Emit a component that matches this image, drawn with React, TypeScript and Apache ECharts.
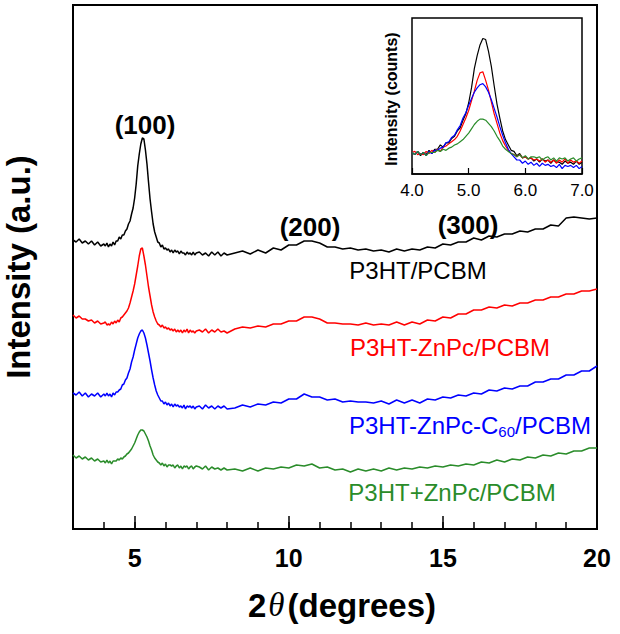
import React, { useEffect, useRef } from 'react';
import * as echarts from 'echarts';

// 2-theta positions (degrees)
const X = [
  3.0, 3.1, 3.2, 3.3, 3.4, 3.5, 3.6, 3.7, 3.8, 3.9,
  4.0, 4.05, 4.1, 4.15, 4.2, 4.25, 4.3, 4.35, 4.4, 4.45,
  4.5, 4.55, 4.6, 4.65, 4.7, 4.75, 4.8, 4.85, 4.9, 4.95,
  5.0, 5.05, 5.1, 5.15, 5.2, 5.25, 5.3, 5.35, 5.4, 5.45,
  5.5, 5.55, 5.6, 5.65, 5.7, 5.75, 5.8, 5.85, 5.9, 5.95,
  6.0, 6.05, 6.1, 6.15, 6.2, 6.25, 6.3, 6.35, 6.4, 6.45,
  6.5, 6.55, 6.6, 6.65, 6.7, 6.75, 6.8, 6.85, 6.9, 6.95,
  7.0,
  7.1, 7.2, 7.3, 7.4, 7.5, 7.6, 7.7, 7.8, 7.9, 8.0,
  8.25, 8.5, 8.75, 9.0, 9.25, 9.5, 9.75, 10.0, 10.25, 10.5,
  10.75, 11.0, 11.25, 11.5, 11.75, 12.0, 12.25, 12.5, 12.75, 13.0,
  13.25, 13.5, 13.75, 14.0, 14.25, 14.5, 14.75, 15.0, 15.25, 15.5,
  15.75, 16.0, 16.25, 16.5, 16.75, 17.0, 17.25, 17.5, 17.75, 18.0,
  18.25, 18.5, 18.75, 19.0, 19.25, 19.5, 19.75, 20.0,
];

// Offset intensities (a.u.)
const P3HT_PCBM = [
  289, 287, 290, 286, 288, 285, 288, 284, 287, 283,
  285, 283, 286, 282, 285, 283, 287, 284, 288, 288,
  292, 290, 294, 294, 298, 300, 305, 308, 315, 321,
  331, 345, 363, 375, 385, 391, 390, 379, 365, 347,
  330, 317, 305, 297, 292, 287, 286, 282, 284, 280,
  281, 279, 280, 277, 279, 276, 279, 277, 278, 275,
  278, 276, 276, 274, 277, 275, 276, 274, 277, 274,
  276,
  277, 274, 276, 273, 277, 274, 277, 273, 276, 274,
  276, 278, 275, 279, 276, 281, 279, 284, 284, 288,
  288, 286, 282, 282, 280, 281, 279, 280, 278, 279,
  277, 280, 278, 280, 279, 282, 281, 285, 284, 287,
  287, 291, 289, 293, 292, 295, 295, 298, 297, 300,
  300, 304, 303, 311, 312, 311, 310, 311,
];

const P3HT_ZNPC_PCBM = [
  214, 211, 213, 210, 210, 208, 209, 206, 208, 205,
  206, 207, 204, 205, 204, 207, 205, 208, 206, 209,
  207, 211, 212, 214, 216, 218, 221, 226, 232, 238,
  245, 254, 263, 273, 280, 281, 273, 264, 253, 242,
  233, 224, 217, 212, 208, 205, 204, 202, 204, 201,
  202, 200, 201, 199, 200, 198, 200, 197, 199, 197,
  199, 196, 199, 197, 200, 196, 199, 197, 198, 196,
  198,
  199, 197, 200, 196, 199, 197, 200, 197, 198, 196,
  200, 202, 201, 203, 202, 205, 205, 208, 208, 212,
  212, 210, 206, 206, 205, 205, 204, 206, 204, 205,
  204, 207, 204, 207, 205, 209, 208, 212, 211, 215,
  215, 219, 219, 222, 221, 224, 223, 226, 226, 229,
  229, 232, 232, 235, 235, 238, 238, 240,
];

const P3HT_ZNPC_C60_PCBM = [
  136, 134, 137, 133, 136, 132, 135, 133, 136, 132,
  135, 133, 136, 133, 135, 132, 136, 134, 137, 137,
  139, 140, 144, 145, 149, 151, 156, 160, 167, 172,
  179, 185, 191, 195, 198, 199, 196, 191, 184, 176,
  168, 159, 151, 144, 138, 134, 131, 128, 128, 125,
  127, 124, 126, 123, 125, 122, 125, 123, 124, 122,
  123, 121, 124, 120, 123, 122, 123, 121, 123, 120,
  122,
  123, 120, 124, 121, 123, 120, 123, 121, 123, 120,
  121, 124, 122, 125, 124, 127, 126, 130, 130, 135,
  132, 132, 129, 130, 127, 128, 127, 127, 126, 128,
  125, 129, 126, 129, 126, 130, 129, 132, 131, 134,
  133, 136, 135, 139, 138, 141, 140, 143, 143, 147,
  147, 150, 150, 154, 154, 158, 158, 163,
];

const P3HT_PLUS_ZNPC_PCBM = [
  74, 71, 73, 70, 72, 69, 71, 68, 70, 67,
  68, 66, 69, 66, 68, 65, 68, 68, 68, 70,
  69, 71, 70, 72, 73, 75, 76, 78, 80, 83,
  86, 90, 94, 97, 99, 99, 98, 95, 92, 88,
  83, 79, 74, 71, 69, 67, 66, 64, 66, 63,
  65, 62, 64, 64, 63, 64, 61, 63, 64, 61,
  63, 60, 63, 62, 63, 60, 62, 63, 60, 62,
  63,
  62, 60, 63, 59, 62, 60, 61, 59, 61, 59,
  60, 58, 61, 58, 61, 60, 62, 61, 64, 63,
  65, 61, 62, 59, 60, 57, 60, 58, 60, 58,
  61, 59, 61, 60, 62, 61, 63, 62, 64, 63,
  65, 64, 67, 66, 69, 67, 70, 69, 72, 71,
  74, 73, 76, 75, 78, 78, 81, 81,
];

const SERIES_NAMES = ['P3HT/PCBM', 'P3HT-ZnPc/PCBM', 'P3HT-ZnPc-C60/PCBM', 'P3HT+ZnPc/PCBM'];
const COLORS = ['#000000', '#ff0000', '#0000ff', '#2a8c2a'];
// baseline (at 4.0 deg) removed for the un-offset inset
const INSET_BASE = [285, 206, 135, 68];
const MAIN_TICK_LABELS = [5, 10, 15, 20];
const INSET_TICKS = [4, 5, 6, 7];
const PEAK_LABELS = ['(100)', '(200)', '(300)'];

const FONT = "'Liberation Sans', Arial, Helvetica, sans-serif";

export default function App() {
  const ref = useRef<HTMLDivElement>(null);

  useEffect(() => {
    document.body.style.margin = '0';
    const chart = echarts.init(ref.current as HTMLDivElement, null, { renderer: 'svg' });
    const curves = [P3HT_PCBM, P3HT_ZNPC_PCBM, P3HT_ZNPC_C60_PCBM, P3HT_PLUS_ZNPC_PCBM];

    const mainSeries = curves.map((c, i) => ({
      type: 'line',
      name: SERIES_NAMES[i],
      xAxisIndex: 0,
      yAxisIndex: 0,
      data: X.map((x, j) => [x, c[j]]),
      showSymbol: false,
      symbol: 'none',
      silent: true,
      lineStyle: { color: COLORS[i], width: 1.5 },
      z: 3,
    }));

    const insetSeries = curves.map((c, i) => ({
      type: 'line',
      name: SERIES_NAMES[i] + ' inset',
      xAxisIndex: 2,
      yAxisIndex: 1,
      data: X.map((x, j) => [x, c[j] - INSET_BASE[i]]).filter((p) => p[0] >= 4 && p[0] <= 7),
      showSymbol: false,
      symbol: 'none',
      silent: true,
      lineStyle: { color: COLORS[i], width: 1.2 },
      z: 4,
    }));

    const txt = (text: string, x: number, y: number, size: number, color: string, weight: string) => ({
      type: 'text',
      x,
      y,
      silent: true,
      z: 10,
      style: {
        text,
        fill: color,
        fontSize: size,
        fontWeight: weight,
        fontFamily: FONT,
        textAlign: 'center',
        textVerticalAlign: 'middle',
      },
    });

    chart.setOption({
      animation: false,
      backgroundColor: '#ffffff',
      grid: [
        { left: 73, top: 5, width: 524, height: 524, show: true, borderColor: '#000', borderWidth: 2, backgroundColor: 'transparent' },
        { left: 412, top: 18, width: 170, height: 156, show: true, borderColor: '#000', borderWidth: 1.5, backgroundColor: '#fff' },
      ],
      xAxis: [
        {
          gridIndex: 0, type: 'value', min: 3, max: 20, interval: 1, position: 'bottom',
          axisLine: { show: true, onZero: false, lineStyle: { color: '#000', width: 2 } },
          axisTick: { show: true, inside: true, length: 7, lineStyle: { color: '#000', width: 1.5 } },
          axisLabel: { show: false },
          splitLine: { show: false },
        },
        {
          gridIndex: 0, type: 'value', min: 3, max: 20, interval: 1, position: 'bottom',
          axisLine: { show: false, onZero: false },
          axisTick: { show: true, inside: true, length: 13, customValues: MAIN_TICK_LABELS, lineStyle: { color: '#000', width: 1.5 } },
          axisLabel: {
            show: true, customValues: MAIN_TICK_LABELS, margin: 16,
            formatter: (v: number) => (v % 5 === 0 ? String(v) : ''),
            color: '#000', fontSize: 25, fontWeight: 'bold', fontFamily: FONT,
          },
          splitLine: { show: false },
        },
        {
          gridIndex: 1, type: 'value', min: INSET_TICKS[0], max: INSET_TICKS[INSET_TICKS.length - 1], interval: 1, position: 'bottom',
          axisLine: { show: true, onZero: false, lineStyle: { color: '#000', width: 1.5 } },
          axisTick: { show: true, inside: true, length: 6, lineStyle: { color: '#000', width: 1.2 } },
          axisLabel: {
            show: true, margin: 8, formatter: (v: number) => v.toFixed(1),
            color: '#000', fontSize: 17, fontFamily: FONT,
          },
          splitLine: { show: false },
        },
      ],
      yAxis: [
        { gridIndex: 0, type: 'value', min: 0, max: 524, show: false, splitLine: { show: false } },
        { gridIndex: 1, type: 'value', min: -20, max: 125, show: false, splitLine: { show: false } },
      ],
      series: [...mainSeries, ...insetSeries],
      graphic: [
        txt(PEAK_LABELS[0], 145, 125, 26, '#000', 'bold'),
        txt(PEAK_LABELS[1], 310, 227, 26, '#000', 'bold'),
        txt(PEAK_LABELS[2], 468, 225, 26, '#000', 'bold'),
        txt(SERIES_NAMES[0], 418, 270, 24, COLORS[0], 'normal'),
        txt(SERIES_NAMES[1], 450, 347, 24, COLORS[1], 'normal'),
        {
          type: 'text', x: 470, y: 425, silent: true, z: 10,
          style: {
            text: '{a|P3HT-ZnPc-C}{b|60}{a|/PCBM}',
            textAlign: 'center', textVerticalAlign: 'middle',
            fill: COLORS[2], fontFamily: FONT, fontSize: 24,
            rich: {
              a: { fill: COLORS[2], fontSize: 24, fontFamily: FONT, lineHeight: 28 },
              b: { fill: COLORS[2], fontSize: 15, fontFamily: FONT, lineHeight: 20, verticalAlign: 'bottom' },
            },
          },
        },
        txt(SERIES_NAMES[3], 452, 492, 24, COLORS[3], 'normal'),
        {
          type: 'text', x: 18, y: 267, rotation: Math.PI / 2, silent: true, z: 10,
          style: {
            text: 'Intensity (a.u.)', fill: '#000', fontSize: 33, fontWeight: 'bold', fontFamily: FONT,
            textAlign: 'center', textVerticalAlign: 'middle',
          },
        },
        {
          type: 'text', x: 342, y: 605, silent: true, z: 10,
          style: {
            text: '{n|2}{t|θ}{n|(degrees)}',
            textAlign: 'center', textVerticalAlign: 'middle',
            fill: '#000', fontSize: 33, fontFamily: FONT,
            rich: {
              n: { fill: '#000', fontSize: 33, fontWeight: 'bold', fontFamily: FONT, lineHeight: 38 },
              t: { fill: '#000', fontSize: 33, fontStyle: 'italic', fontFamily: "'Liberation Serif', 'DejaVu Serif', serif", lineHeight: 38, padding: [0, 3, 0, 2] },
            },
          },
        },
        {
          type: 'text', x: 391, y: 99, rotation: Math.PI / 2, silent: true, z: 10,
          style: {
            text: 'Intensity (counts)', fill: '#000', fontSize: 16, fontWeight: 'bold', fontFamily: FONT,
            textAlign: 'center', textVerticalAlign: 'middle',
          },
        },
      ],
    });

    return () => {
      chart.dispose();
    };
  }, []);

  return <div ref={ref} style={{ width: 620, height: 634 }} />;
}
